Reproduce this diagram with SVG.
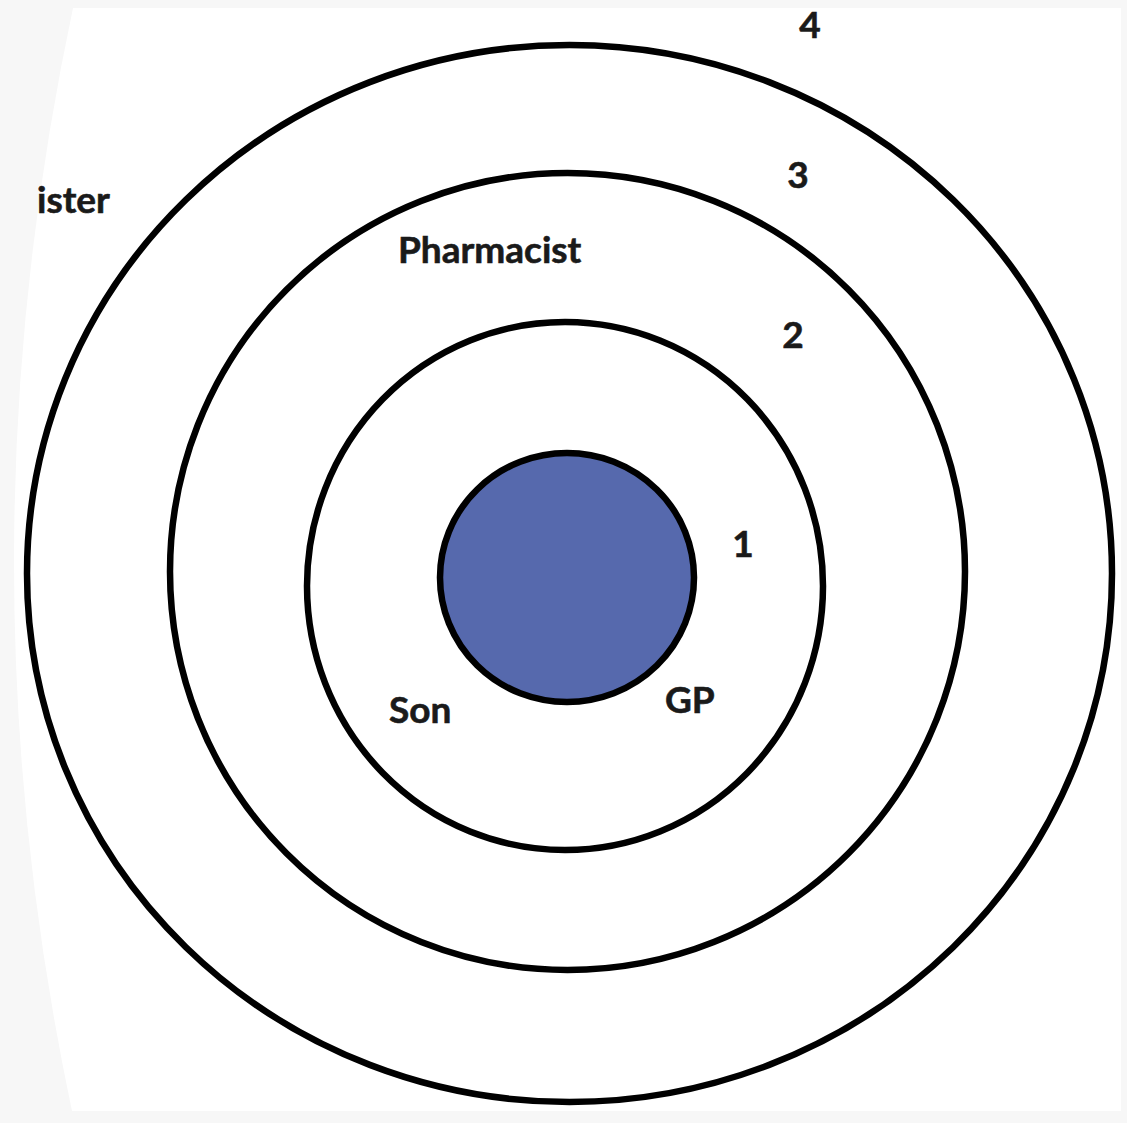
<svg xmlns="http://www.w3.org/2000/svg" width="1127" height="1123" viewBox="0 0 1127 1123">
  <style>
    .ring { fill: none; stroke: #000; stroke-width: 6.5; }
    .core { fill: #5669ad; stroke: #000; stroke-width: 6.5; }
    .lbl { font-family: Lato, "Open Sans", "Liberation Sans", sans-serif; font-weight: 700; font-size: 37px; fill: #1a1a1a; stroke: #1a1a1a; stroke-width: 0.6; }
    .num { text-anchor: middle; }
  </style>
  <rect x="0" y="0" width="1127" height="1123" fill="#f7f7f7"/>
  <path d="M73,8 L1121,8 L1121,1111 L72,1111 Q-44.5,560.5 73,8 Z" fill="#ffffff"/>
  <g id="ring4"><ellipse class="ring" cx="569.5" cy="573.5" rx="542.5" ry="528.5"/></g>
  <g id="ring3"><ellipse class="ring" cx="567.5" cy="571.5" rx="397.5" ry="398.5"/></g>
  <g id="ring2"><ellipse class="ring" cx="565" cy="586" rx="258" ry="264"/></g>
  <g id="core"><ellipse class="core" cx="567" cy="577.5" rx="127" ry="124.5"/></g>
  <g id="labels">
    <text class="lbl num" x="810" y="38">4</text>
    <text class="lbl num" x="798" y="188">3</text>
    <text class="lbl num" x="793" y="348">2</text>
    <text class="lbl num" x="743" y="557">1</text>
    <text class="lbl" x="398" y="263">Pharmacist</text>
    <text class="lbl" x="389" y="723">Son</text>
    <text class="lbl" x="665" y="713">GP</text>
    <text class="lbl" x="37" y="213">ister</text>
  </g>
</svg>
